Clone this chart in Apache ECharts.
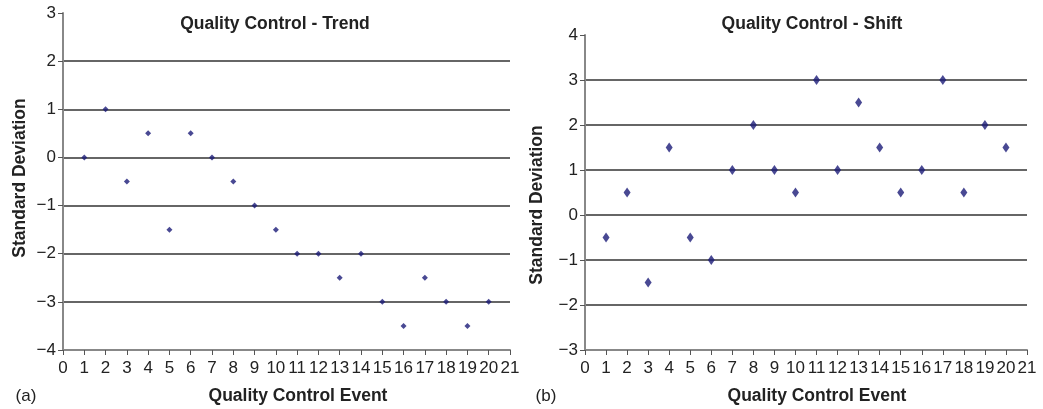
<!DOCTYPE html>
<html><head><meta charset="utf-8">
<script src="https://cdn.jsdelivr.net/npm/echarts@6/dist/echarts.min.js"></script>
<style>html,body{margin:0;padding:0;background:#fff}#c{width:1043px;height:409px}</style>
</head><body><div id="c"></div>
<script>
const events = [1,2,3,4,5,6,7,8,9,10,11,12,13,14,15,16,17,18,19,20];
const trendValues = [0,1,-0.5,0.5,-1.5,0.5,0,-0.5,-1,-1.5,-2,-2,-2.5,-2,-3,-3.5,-2.5,-3,-3.5,-3];
const shiftValues = [-0.5,0.5,-1.5,1.5,-0.5,-1,1,2,1,0.5,3,1,2.5,1.5,0.5,1,3,0.5,2,1.5];
const titles = ['Quality Control - Trend','Quality Control - Shift'];
const panelLabels = ['(a)','(b)'];
const xName = 'Quality Control Event';
const yName = 'Standard Deviation';

const font = 'Liberation Sans, Arial, sans-serif';
const chart = echarts.init(document.getElementById('c'));
const mk = (vals) => events.map((e,i)=>[e, vals[i]]);
const xAxisCfg = (gi) => ({
  type:'value', gridIndex:gi, min:0, max:21, interval:1,
  axisLine:{show:true, onZero:false, lineStyle:{color:'#888', width:2}},
  axisTick:{show:true, length:5, lineStyle:{color:'#555'}},
  axisLabel:{color:'#222', fontSize:17, fontFamily:font, margin:10},
  splitLine:{show:false}
});
const yAxisCfg = (gi, min, max) => ({
  type:'value', gridIndex:gi, min:min, max:max, interval:1,
  axisLine:{show:true, onZero:false, lineStyle:{color:'#888', width:2}},
  axisTick:{show:true, length:5, lineStyle:{color:'#555'}},
  axisLabel:{color:'#222', fontSize:17, fontFamily:font, margin:7,
    formatter: v => v < 0 ? '\u2212' + Math.abs(v) : String(v)},
  splitLine:{show:true, showMinLine:false, showMaxLine:false, lineStyle:{color:'#333', width:1.5}}
});
const boldText = (x, y, text, rot) => ({type:'text', x:x, y:y, rotation:rot||0,
  style:{text:text, fill:'#222', font:'bold 17.5px '+font, textAlign:'center', textVerticalAlign:'middle'}});
chart.setOption({
  animation:false,
  grid:[
    {left:63, top:13, width:447, height:337},
    {left:585, top:35, width:442, height:315}
  ],
  xAxis:[xAxisCfg(0), xAxisCfg(1)],
  yAxis:[yAxisCfg(0,-4,3), yAxisCfg(1,-3,4)],
  graphic:[
    boldText(275, 24, titles[0]),
    boldText(812, 24, titles[1]),
    boldText(298, 396, xName),
    boldText(817, 396, xName),
    boldText(20, 178, yName, Math.PI/2),
    boldText(537, 205, yName, Math.PI/2),
    {type:'text', x:26, y:396, style:{text:panelLabels[0], fill:'#222', font:'17px '+font, textAlign:'center', textVerticalAlign:'middle'}},
    {type:'text', x:546, y:396, style:{text:panelLabels[1], fill:'#222', font:'17px '+font, textAlign:'center', textVerticalAlign:'middle'}}
  ],
  series:[
    {type:'scatter', xAxisIndex:0, yAxisIndex:0, data:mk(trendValues), symbol:'diamond', symbolSize:[6,6], itemStyle:{color:'#1c1c78'}},
    {type:'scatter', xAxisIndex:1, yAxisIndex:1, data:mk(shiftValues), symbol:'diamond', symbolSize:[7,10], itemStyle:{color:'#1c1c78'}}
  ]
});
</script></body></html>
